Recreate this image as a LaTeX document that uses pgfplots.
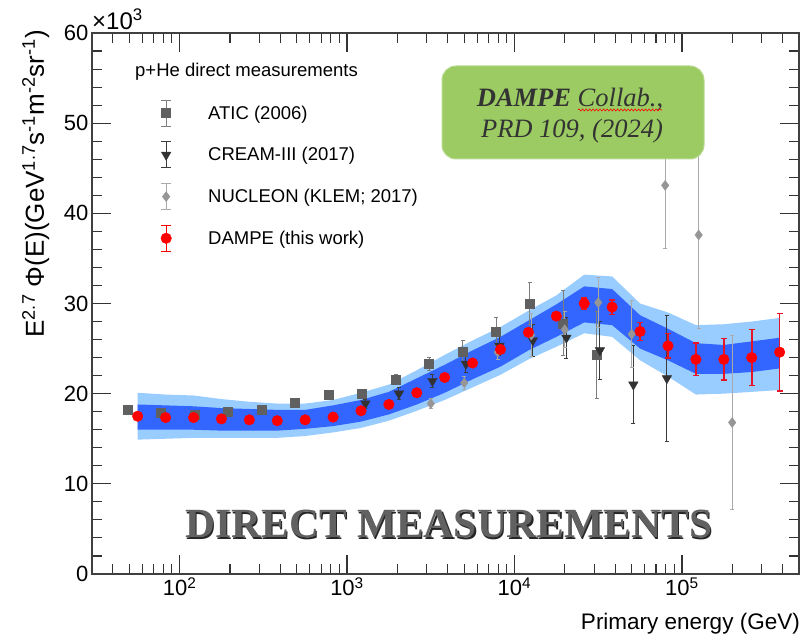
\documentclass[border=0pt]{standalone}
\usepackage{fontspec}
\setmainfont{Liberation Sans}
\newfontfamily\seriffont{Liberation Serif}
\usepackage{pgfplots}
\usepackage{pgfplotstable}
\pgfplotsset{compat=1.18}
\usepgfplotslibrary{fillbetween}
\usetikzlibrary{decorations.pathmorphing}

\definecolor{bandout}{RGB}{153,204,255}
\definecolor{bandin}{RGB}{51,102,255}
\definecolor{atic}{RGB}{96,96,96}
\definecolor{aticbar}{RGB}{125,125,125}
\definecolor{cream}{RGB}{50,50,50}
\definecolor{creambar}{RGB}{60,60,60}
\definecolor{nucleon}{RGB}{150,150,150}
\definecolor{nucbar}{RGB}{170,170,170}
\definecolor{boxgreen}{RGB}{155,203,98}
\definecolor{dbar}{RGB}{230,20,40}

\pgfplotstableread{
x y e uo ui li lo
56.23 17.5 0.15 20.1 18.8 16.0 14.9
82.54 17.35 0.15 19.9 18.7 16.0 15.0
121.2 17.35 0.15 19.8 18.6 16.0 15.1
177.8 17.2 0.15 19.4 18.4 15.9 15.1
261.0 17.1 0.15 19.1 18.3 15.9 15.1
383.1 17.0 0.15 18.9 18.2 15.9 15.1
562.3 17.1 0.15 18.9 18.2 16.1 15.3
825.4 17.4 0.15 19.3 18.7 16.4 15.7
1212 18.1 0.15 20.1 19.3 16.9 16.2
1778 18.8 0.15 21.0 20.2 17.7 17.0
2610 20.1 0.2 22.6 21.7 18.8 18.1
3831 21.8 0.2 24.3 23.2 20.1 19.3
5623 23.4 0.2 25.9 24.8 21.6 20.7
8254 24.9 0.25 27.4 26.3 23.0 22.1
12115 26.8 0.3 29.2 28.1 24.8 23.8
17783 28.6 0.4 30.9 29.9 26.3 25.2
26102 30.0 0.6 33.2 31.9 27.9 26.7
38312 29.6 0.8 33.0 31.6 27.6 26.3
56234 26.9 1.0 30.0 28.7 25.0 23.7
82540 25.3 1.35 29.0 27.2 23.7 21.9
121153 23.8 1.8 27.6 25.6 22.2 19.9
177828 23.8 2.3 27.7 25.4 22.2 20.0
261016 24.0 3.1 28.0 25.8 22.4 20.2
383119 24.6 4.3 28.4 26.2 22.8 20.4
}\dampe

\pgfplotstableread{
x y e
49.0 18.2 0.2
77.6 17.9 0.2
123 17.7 0.2
195 18.0 0.2
309 18.2 0.2
490 19.0 0.25
776 19.9 0.3
1230 20.0 0.3
1950 21.6 0.5
3090 23.3 0.7
4898 24.7 1.2
7762 26.9 1.55
12303 30.0 2.3
19498 27.8 3.6
30903 24.3 4.8
}\aticdata

\pgfplotstableread{
x y e
1288 18.9 0.5
2042 20.0 0.65
3236 21.4 0.7
5129 23.3 1.0
8128 25.3 1.1
12882 25.9 1.8
20417 26.2 2.3
32359 24.8 3.2
51286 21.0 4.3
81283 21.7 7.0
}\creamdata

\pgfplotstableread{
x y e
3162 18.9 0.6
5012 21.2 0.7
7943 24.6 0.8
12589 26.5 2.4
19953 27.1 2.0
31623 30.1 2.8
50119 26.6 3.7
79433 43.1 7.0
125893 37.6 10.4
199526 16.8 9.7
}\nucdata

\pgfplotsset{
  errlegend/.style 2 args={legend image code/.code={
    \draw[#1, line width=1pt] (0pt,-13pt)--(0pt,13pt) (-5pt,-13pt)--(5pt,-13pt) (-5pt,13pt)--(5pt,13pt);
    \draw[#2, only marks] plot coordinates {(0pt,0pt)};
    \path[draw=none, fill=none] (-16pt,-15pt) rectangle (42pt,15pt);
  }}
}

\begin{document}
\begin{tikzpicture}
\begin{axis}[
  scale only axis, width=707pt, height=541pt,
  xmode=log, log basis x=10,
  xmin=30, xmax=5e5, ymin=0, ymax=60,
  xtick={100,1000,10000,100000},
  xticklabels={10\textsuperscript{2},10\textsuperscript{3},10\textsuperscript{4},10\textsuperscript{5}},
  minor xtick={40,50,60,70,80,90,200,300,400,500,600,700,800,900,2000,3000,4000,5000,6000,7000,8000,9000,20000,30000,40000,50000,60000,70000,80000,90000,200000,300000,400000},
  ytick={0,10,20,30,40,50,60},
  minor y tick num=4,
  major tick length=19pt, minor tick length=10pt,
  tick style={line width=1.1pt, color=black!80},
  axis line style={line width=1.4pt, color=black!75},
  ticklabel style={font=\fontsize{22}{22}\selectfont},
  /pgf/number format/assume math mode=true,
  legend style={at={(0.0820,0.8799)}, anchor=north west, draw=none, fill=none,
    inner sep=0pt, row sep=11.7pt, font=\fontsize{18.5}{18.5}\selectfont,
    nodes={inner sep=0pt}, cells={anchor=west}},
]
% DAMPE systematic bands
\addplot[draw=none, name path=uo, forget plot] table[x=x,y=uo]{\dampe};
\addplot[draw=none, name path=lo, forget plot] table[x=x,y=lo]{\dampe};
\addplot[draw=none, name path=ui, forget plot] table[x=x,y=ui]{\dampe};
\addplot[draw=none, name path=li, forget plot] table[x=x,y=li]{\dampe};
\addplot[fill=bandout, draw=none, forget plot] fill between[of=uo and lo];
\addplot[fill=bandin, draw=none, forget plot] fill between[of=ui and li];

% ATIC
\addplot[only marks, mark=square*, mark size=4.5pt, color=atic,
  errlegend={aticbar}{mark=square*, mark size=4.5pt, color=atic},
  error bars/.cd, y dir=both, y explicit,
  error bar style={aticbar, line width=1pt},
  error mark options={rotate=90, aticbar, mark size=2pt, line width=1pt}]
  table[x=x, y=y, y error=e] {\aticdata};
\addlegendentry{ATIC (2006)}

% CREAM-III
\addplot[only marks, mark=triangle*, mark size=5.5pt, mark options={rotate=180}, color=cream,
  errlegend={creambar}{mark=triangle*, mark size=5.5pt, mark options={rotate=180}, color=cream},
  error bars/.cd, y dir=both, y explicit,
  error bar style={creambar, line width=1pt},
  error mark options={rotate=90, creambar, mark size=2pt, line width=1pt}]
  table[x=x, y=y, y error=e] {\creamdata};
\addlegendentry{CREAM-III (2017)}

% NUCLEON
\addplot[only marks, mark=diamond*, mark size=5pt, color=nucleon,
  errlegend={nucbar}{mark=diamond*, mark size=5pt, color=nucleon},
  error bars/.cd, y dir=both, y explicit,
  error bar style={nucbar, line width=1.2pt},
  error mark options={rotate=90, nucbar, mark size=2pt, line width=1pt}]
  table[x=x, y=y, y error=e] {\nucdata};
\addlegendentry{NUCLEON (KLEM; 2017)}

% DAMPE
\addplot[only marks, mark=*, mark size=5.3pt, color=red,
  errlegend={red}{mark=*, mark size=5.3pt, color=red},
  error bars/.cd, y dir=both, y explicit,
  error bar style={dbar, line width=1.6pt},
  error mark options={rotate=90, dbar, mark size=3pt, line width=1.4pt}]
  table[x=x, y=y, y error=e] {\dampe};
\addlegendentry{DAMPE (this work)}
\end{axis}

% axis multiplier
\node[anchor=base west, inner sep=0pt, font=\fontsize{24}{24}\selectfont] at (0pt,544pt) {×10\textsuperscript{3}};
% y label
\node[rotate=90, anchor=base east, inner sep=0pt, font=\fontsize{26}{26}\selectfont] at (-48pt,544pt)
  {E\textsuperscript{2.7} Φ(E)(GeV\textsuperscript{1.7}s\textsuperscript{-1}m\textsuperscript{-2}sr\textsuperscript{-1})};
% x label
\node[anchor=base east, inner sep=0pt, font=\fontsize{22.5}{22.5}\selectfont] at (708pt,-56pt) {Primary energy (GeV)};
% legend header
\node[anchor=west, inner sep=0pt, font=\fontsize{18.5}{18.5}\selectfont] at (43pt,502pt) {p+He direct measurements};

% green reference box
\draw[fill=boxgreen, draw=boxgreen!70!white, line width=1pt, rounded corners=14pt] (350pt,415pt) rectangle (612pt,508pt);
\node[anchor=base, inner sep=0pt, font=\seriffont\fontsize{26.5}{26.5}\selectfont, text=black!80] at (478pt,467pt)
  {\textbf{\textit{DAMPE}} \textit{Collab.},};
\draw[red, line width=0.6pt, decorate, decoration={snake, amplitude=1pt, segment length=3.5pt}] (486pt,464pt) -- (570pt,464pt);
\node[anchor=base, inner sep=0pt, font=\seriffont\fontsize{26.5}{26.5}\selectfont, text=black!80] at (480pt,436pt)
  {\textit{PRD 109, (2024)}};

% big caption
\node[anchor=base, inner sep=0pt, font=\seriffont\bfseries\fontsize{41.5}{41.5}\selectfont, text=black!85] at (358pt,34.8pt) {DIRECT MEASUREMENTS};
\node[anchor=base, inner sep=0pt, font=\seriffont\bfseries\fontsize{41.5}{41.5}\selectfont, text=black!62] at (356.8pt,36pt) {DIRECT MEASUREMENTS};

\pgfresetboundingbox
\useasboundingbox (-92pt,-63pt) rectangle (712pt,574pt);
\end{tikzpicture}
\end{document}
